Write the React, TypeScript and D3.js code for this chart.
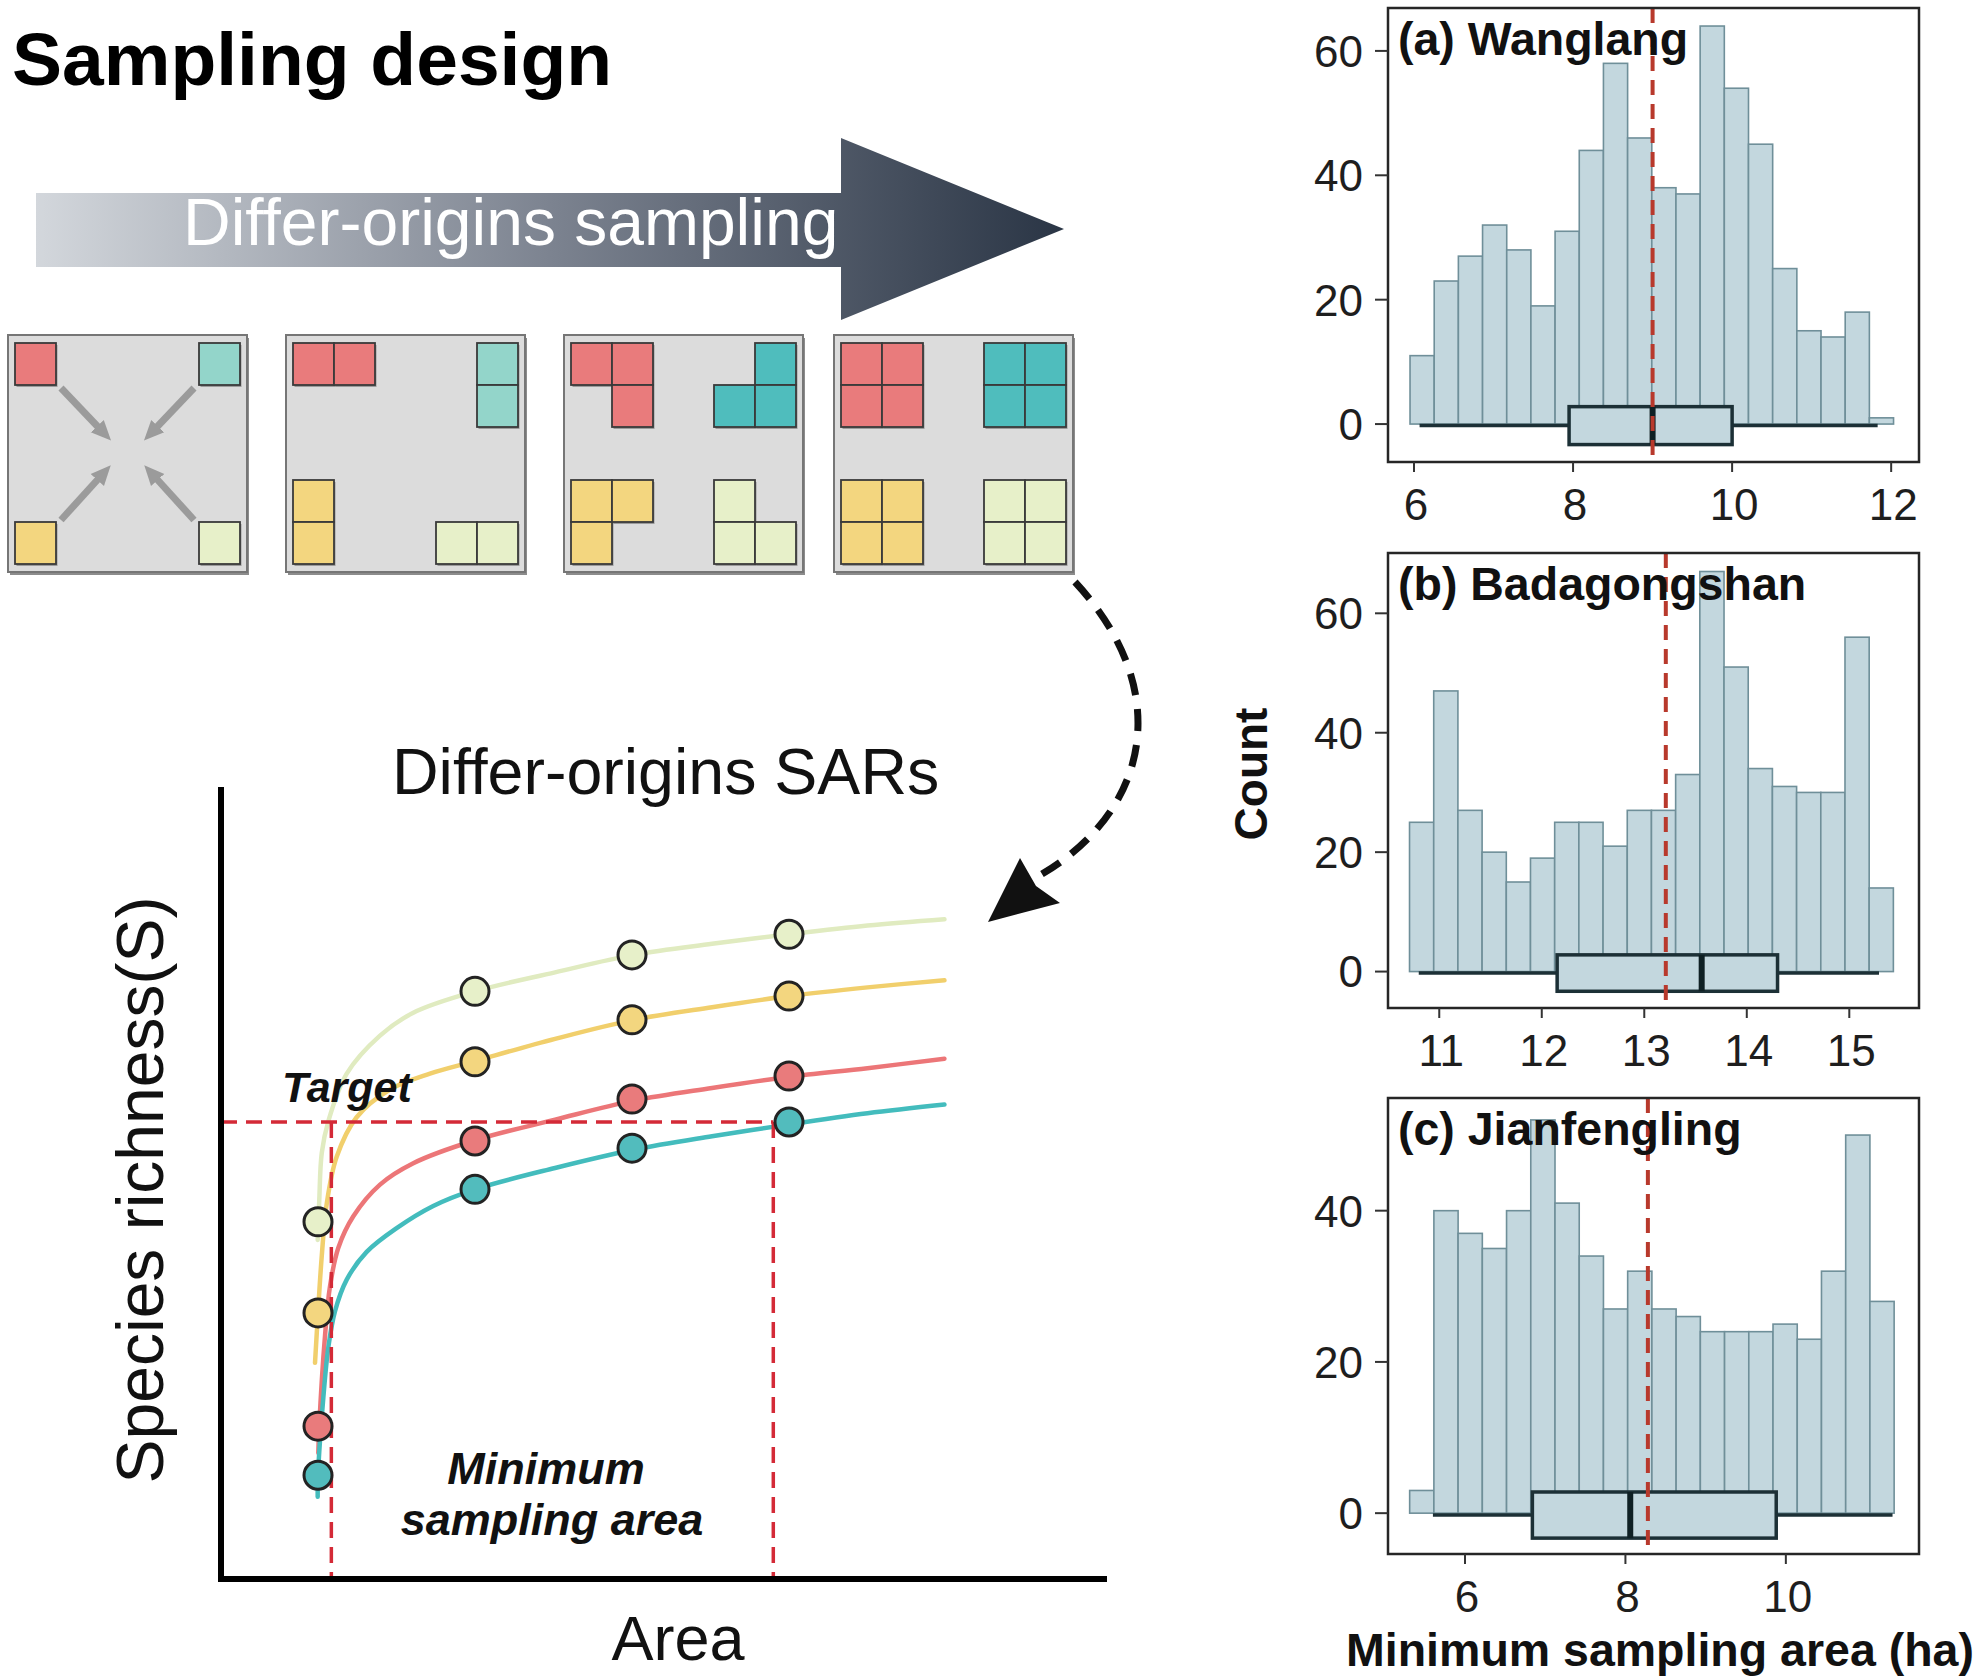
import React from "react";
import * as d3 from "d3";

const FONT = "'Liberation Sans', Arial, Helvetica, sans-serif";

// ---------------- Histogram data ----------------
const histTitles = ["(a) Wanglang", "(b) Badagongshan", "(c) Jianfengling"];
const countsA = [11, 23, 27, 32, 28, 19, 31, 44, 58, 46, 38, 37, 64, 54, 45, 25, 15, 14, 18, 1];
const countsB = [25, 47, 27, 20, 15, 19, 25, 25, 21, 27, 27, 33, 67, 51, 34, 31, 30, 30, 56, 14];
const countsC = [3, 40, 37, 35, 40, 52, 41, 34, 27, 32, 27, 26, 24, 24, 24, 25, 23, 32, 50, 28];
const binStarts = [5.95, 10.71, 5.31];
const binWidths = [0.304, 0.236, 0.302];
const meanLines = [9.0, 13.21, 8.28];
const medians = [9.0, 13.56, 8.06];
const q1s = [7.95, 12.15, 6.84];
const q3s = [10.0, 14.3, 9.88];
const whiskerLo = [6.07, 10.8, 5.6];
const whiskerHi = [11.83, 15.29, 11.33];
const xTicksA = [6, 8, 10, 12];
const xTicksB = [11, 12, 13, 14, 15];
const xTicksC = [6, 8, 10];
const yTicksA = [0, 20, 40, 60];
const yTicksB = [0, 20, 40, 60];
const yTicksC = [0, 20, 40];
const xDomains: [number, number][] = [[5.673, 12.35], [10.5, 15.68], [5.04, 11.66]];
const yDomains: [number, number][] = [[-6.1, 66.9], [-6.1, 70.1], [-5.4, 54.9]];

// ---------------- SAR data ----------------
const sarArea = [1, 2, 3, 4];
const sarLightGreen = [45.1, 74.2, 78.8, 81.4];
const sarYellow = [33.6, 65.3, 70.6, 73.6];
const sarRed = [19.3, 55.3, 60.6, 63.5];
const sarTeal = [13.1, 49.2, 54.4, 57.7];

const curveLightGreenA = [0.998, 1.008, 1.024, 1.066, 1.183, 1.395, 1.607, 2.0, 2.51, 3.01, 3.51, 4.0, 4.5, 4.99];
const curveLightGreenS = [42.8, 47.8, 53.8, 57.8, 63.8, 68.6, 71.5, 74.2, 76.6, 78.8, 80.2, 81.4, 82.5, 83.3];
const curveYellowA = [0.981, 1.0, 1.024, 1.055, 1.119, 1.246, 1.459, 1.713, 2.0, 2.51, 3.01, 3.51, 4.0, 4.5, 4.99];
const curveYellowS = [27.3, 33.6, 40.8, 47.3, 53.3, 58.3, 61.8, 63.8, 65.4, 68.2, 70.6, 72.2, 73.6, 74.7, 75.6];
const curveRedA = [1.002, 1.008, 1.045, 1.076, 1.129, 1.225, 1.395, 1.607, 2.0, 2.51, 3.01, 3.51, 4.0, 4.5, 4.99];
const curveRedS = [15.9, 19.3, 30.8, 36.9, 41.8, 45.8, 49.8, 52.5, 55.4, 58.0, 60.4, 62.0, 63.4, 64.5, 65.7];
const curveTealA = [0.998, 1.0, 1.034, 1.066, 1.108, 1.183, 1.31, 1.501, 1.734, 2.0, 2.51, 3.01, 3.51, 4.0, 4.5, 4.99];
const curveTealS = [10.4, 13.1, 22.9, 29.3, 33.8, 37.8, 41.3, 44.3, 47.1, 49.2, 51.9, 54.2, 55.9, 57.4, 58.8, 59.9];

const targetS = 57.7;
const targetAreaLeft = 1.085;
const targetAreaRight = 3.9;

// colours
const colRed = "#e97b7c";
const colTealLight = "#93d5ca";
const colTeal = "#4fbdbd";
const colYellow = "#f3d67f";
const colLightGreen = "#e7f0c9";
const curveColRed = "#ec7678";
const curveColTeal = "#43bcbd";
const curveColYellow = "#f1cf6c";
const curveColLightGreen = "#e0ebc0";

// ---------------- layout ----------------
const panelLeft = 1388;
const panelRight = 1919;
const panelTops = [8, 553, 1098];
const panelBottoms = [462, 1008, 1554];

const histCounts = [countsA, countsB, countsC];
const histXTicks = [xTicksA, xTicksB, xTicksC];
const histYTicks = [yTicksA, yTicksB, yTicksC];

function Histogram({ i }: { i: number }) {
  const x = d3.scaleLinear().domain(xDomains[i]).range([panelLeft, panelRight]);
  const y = d3.scaleLinear().domain(yDomains[i]).range([panelBottoms[i], panelTops[i]]);
  const counts = histCounts[i];
  const bins = counts.map((c, k) => ({
    x0: binStarts[i] + k * binWidths[i],
    x1: binStarts[i] + (k + 1) * binWidths[i],
    c,
  }));
  const boxC = -0.25;
  const boxH = 3.05;
  return (
    <g>
      {bins.map((b, k) => (
        <rect
          key={k}
          x={x(b.x0)}
          y={y(b.c)}
          width={x(b.x1) - x(b.x0)}
          height={Math.max(0.5, y(0) - y(b.c))}
          fill="#c3d7de"
          stroke="#6f8f99"
          strokeWidth={1.6}
        />
      ))}
      {/* boxplot */}
      <line x1={x(whiskerLo[i])} x2={x(q1s[i])} y1={y(boxC)} y2={y(boxC)} stroke="#1c3036" strokeWidth={3.5} />
      <line x1={x(q3s[i])} x2={x(whiskerHi[i])} y1={y(boxC)} y2={y(boxC)} stroke="#1c3036" strokeWidth={3.5} />
      <rect
        x={x(q1s[i])}
        y={y(boxC + boxH)}
        width={x(q3s[i]) - x(q1s[i])}
        height={y(boxC - boxH) - y(boxC + boxH)}
        fill="#c3d7de"
        stroke="#1c3036"
        strokeWidth={3.5}
      />
      <line x1={x(medians[i])} x2={x(medians[i])} y1={y(boxC + boxH)} y2={y(boxC - boxH)} stroke="#0f2024" strokeWidth={6} />
      {/* mean line */}
      <line
        x1={x(meanLines[i])}
        x2={x(meanLines[i])}
        y1={panelTops[i]}
        y2={panelBottoms[i]}
        stroke="#b8392c"
        strokeWidth={4}
        strokeDasharray="15 9"
      />
      {/* frame */}
      <rect
        x={panelLeft}
        y={panelTops[i]}
        width={panelRight - panelLeft}
        height={panelBottoms[i] - panelTops[i]}
        fill="none"
        stroke="#262626"
        strokeWidth={2.5}
      />
      {histYTicks[i].map((t) => (
        <g key={"y" + t}>
          <line x1={panelLeft - 13} x2={panelLeft} y1={y(t)} y2={y(t)} stroke="#333" strokeWidth={2} />
          <text x={panelLeft - 25} y={y(t)} dy="0.36em" textAnchor="end" fontSize={44} fill="#1e1e1e" fontFamily={FONT}>
            {t}
          </text>
        </g>
      ))}
      {histXTicks[i].map((t) => (
        <g key={"x" + t}>
          <line x1={x(t)} x2={x(t)} y1={panelBottoms[i]} y2={panelBottoms[i] + 10} stroke="#333" strokeWidth={2} />
          <text x={x(t) + 2} y={panelBottoms[i] + 58} textAnchor="middle" fontSize={44} fill="#1e1e1e" fontFamily={FONT}>
            {t}
          </text>
        </g>
      ))}
      <text x={1398} y={panelTops[i] + 47} fontSize={46.5} fontWeight="bold" fill="#111" fontFamily={FONT}>
        {histTitles[i]}
      </text>
    </g>
  );
}

// grid step layouts (cell offsets relative to box)
type Cell = [number, number];
const stepRed: Cell[][] = [
  [[7, 8]],
  [[7, 8], [48, 8]],
  [[7, 8], [48, 8], [48, 50]],
  [[7, 8], [48, 8], [7, 50], [48, 50]],
];
const stepTeal: Cell[][] = [
  [[191, 8]],
  [[191, 8], [191, 50]],
  [[191, 8], [150, 50], [191, 50]],
  [[150, 8], [191, 8], [150, 50], [191, 50]],
];
const stepYellow: Cell[][] = [
  [[7, 187]],
  [[7, 145], [7, 187]],
  [[7, 145], [48, 145], [7, 187]],
  [[7, 145], [48, 145], [7, 187], [48, 187]],
];
const stepLightGreen: Cell[][] = [
  [[191, 187]],
  [[150, 187], [191, 187]],
  [[150, 145], [150, 187], [191, 187]],
  [[150, 145], [191, 145], [150, 187], [191, 187]],
];
const stepTealColor = [colTealLight, colTealLight, colTeal, colTeal];
const boxX = [8, 286, 564, 834];
const boxY = 335;
const boxW = 239;
const boxH = 237;
const cellW = 41;
const cellH = 42;

function GridBox({ k }: { k: number }) {
  const bx = boxX[k];
  const groups: [Cell[], string][] = [
    [stepRed[k], colRed],
    [stepTeal[k], stepTealColor[k]],
    [stepYellow[k], colYellow],
    [stepLightGreen[k], colLightGreen],
  ];
  return (
    <g>
      <rect x={bx + 2} y={boxY + 3} width={boxW} height={boxH} fill="#8c8c8c" />
      <rect x={bx} y={boxY} width={boxW} height={boxH} fill="#dcdcdc" stroke="#767676" strokeWidth={2} />
      {groups.map(([cells, col], gi) =>
        cells.map(([cx, cy], ci) => (
          <g key={gi + "-" + ci}>
            <rect x={bx + cx + 1.5} y={boxY + cy + 2} width={cellW} height={cellH} fill="#666" opacity={0.55} />
            <rect x={bx + cx} y={boxY + cy} width={cellW} height={cellH} fill={col} stroke="#3a3a3a" strokeWidth={1.8} />
          </g>
        ))
      )}
      {k === 0 && (
        <g stroke="#9b9b9b" strokeWidth={7} markerEnd="url(#grayHead)">
          <line x1={bx + 53} y1={boxY + 53} x2={bx + 92} y2={boxY + 94} />
          <line x1={bx + 186} y1={boxY + 53} x2={bx + 147} y2={boxY + 94} />
          <line x1={bx + 53} y1={boxY + 185} x2={bx + 92} y2={boxY + 142} />
          <line x1={bx + 186} y1={boxY + 185} x2={bx + 147} y2={boxY + 142} />
        </g>
      )}
    </g>
  );
}

function SARPanel() {
  const sx = d3.scaleLinear().domain([0, 6]).range([161, 1103]);
  const sy = d3.scaleLinear().domain([0, 100]).range([1579, 787]);
  const line = d3
    .line<[number, number]>()
    .x((d) => sx(d[0]))
    .y((d) => sy(d[1]))
    .curve(d3.curveCatmullRom.alpha(0.5));
  const zip = (a: number[], s: number[]) => a.map((v, j) => [v, s[j]] as [number, number]);
  const curves: [string, [number, number][]][] = [
    [curveColLightGreen, zip(curveLightGreenA, curveLightGreenS)],
    [curveColYellow, zip(curveYellowA, curveYellowS)],
    [curveColRed, zip(curveRedA, curveRedS)],
    [curveColTeal, zip(curveTealA, curveTealS)],
  ];
  const pts: [string, number[]][] = [
    [colLightGreen, sarLightGreen],
    [colYellow, sarYellow],
    [colRed, sarRed],
    ["#52bcbd", sarTeal],
  ];
  const x0 = sx.invert(221);
  return (
    <g>
      {curves.map(([c, d], j) => (
        <path key={j} d={line(d) || ""} fill="none" stroke={c} strokeWidth={4.5} strokeLinecap="round" />
      ))}
      {/* target lines */}
      <g stroke="#d42a37" strokeWidth={3.5} strokeDasharray="16 9" fill="none">
        <line x1={sx(x0)} x2={sx(targetAreaRight)} y1={sy(targetS)} y2={sy(targetS)} />
        <line x1={sx(targetAreaLeft)} x2={sx(targetAreaLeft)} y1={sy(targetS)} y2={sy(0)} />
        <line x1={sx(targetAreaRight)} x2={sx(targetAreaRight)} y1={sy(targetS)} y2={sy(0)} />
      </g>
      {pts.map(([c, vals], j) =>
        vals.map((v, m) => (
          <circle key={j + "-" + m} cx={sx(sarArea[m])} cy={sy(v)} r={14} fill={c} stroke="#232323" strokeWidth={3} />
        ))
      )}
      {/* axes */}
      <line x1={sx(x0)} x2={sx(x0)} y1={787} y2={1582} stroke="#000" strokeWidth={6} />
      <line x1={sx(x0) - 3} x2={1107} y1={sy(0)} y2={sy(0)} stroke="#000" strokeWidth={6} />
      <text x={282} y={1102} fontSize={43} fontWeight="bold" fontStyle="italic" fontFamily={FONT} fill="#111">
        Target
      </text>
      <text x={546} y={1484} fontSize={45} fontWeight="bold" fontStyle="italic" fontFamily={FONT} fill="#111" textAnchor="middle">
        Minimum
      </text>
      <text x={552} y={1535} fontSize={45} fontWeight="bold" fontStyle="italic" fontFamily={FONT} fill="#111" textAnchor="middle">
        sampling area
      </text>
      <text x={392} y={794} fontSize={64.5} fontFamily={FONT} fill="#111">
        Differ-origins SARs
      </text>
      <text
        transform="translate(163,1190) rotate(-90)"
        textAnchor="middle"
        fontSize={66}
        fontFamily={FONT}
        fill="#111"
      >
        Species richness(S)
      </text>
      <text x={678} y={1660} textAnchor="middle" fontSize={63} fontFamily={FONT} fill="#111">
        Area
      </text>
    </g>
  );
}

function DashedArrow() {
  const p = d3.path();
  p.moveTo(1075, 582);
  p.bezierCurveTo(1175, 690, 1150, 810, 1042, 874);
  return (
    <g>
      <path d={p.toString()} fill="none" stroke="#111" strokeWidth={7} strokeDasharray="22 14" />
      <polygon points="988,922 1020,858 1036,886 1060,903" fill="#111" />
    </g>
  );
}

export default function App() {
  return (
    <div style={{ position: "absolute", left: 0, top: 0 }}>
      <svg width={1984} height={1678} style={{ display: "block", background: "#fff" }} fontFamily={FONT}>
        <defs>
          <linearGradient id="arrowGrad" x1="36" x2="1064" y1="0" y2="0" gradientUnits="userSpaceOnUse">
            <stop offset="0" stopColor="#d3d7dc" />
            <stop offset="0.5" stopColor="#7c8390" />
            <stop offset="1" stopColor="#2a3545" />
          </linearGradient>
          <marker id="grayHead" markerUnits="userSpaceOnUse" markerWidth={22} markerHeight={22} refX={4} refY={11} orient="auto">
            <path d="M0,2 L20,11 L0,20 Z" fill="#9b9b9b" />
          </marker>
        </defs>
        <rect x={0} y={0} width={1984} height={1678} fill="#fff" />
        <text x={12} y={85} fontSize={75} fontWeight="bold" fill="#000" fontFamily={FONT}>
          Sampling design
        </text>
        <polygon
          points="36,193 841,193 841,138 1064,229 841,320 841,267 36,267"
          fill="url(#arrowGrad)"
        />
        <text x={183} y={245} fontSize={66} fill="#fff" fontFamily={FONT}>
          Differ-origins sampling
        </text>
        {[0, 1, 2, 3].map((k) => (
          <GridBox key={k} k={k} />
        ))}
        <DashedArrow />
        <SARPanel />
        {[0, 1, 2].map((i) => (
          <Histogram key={i} i={i} />
        ))}
        <text
          transform="translate(1267,774) rotate(-90)"
          textAnchor="middle"
          fontSize={46}
          fontWeight="bold"
          fill="#111"
          fontFamily={FONT}
        >
          Count
        </text>
        <text x={1660} y={1666} textAnchor="middle" fontSize={46.5} fontWeight="bold" fill="#111" fontFamily={FONT}>
          Minimum sampling area (ha)
        </text>
      </svg>
    </div>
  );
}
